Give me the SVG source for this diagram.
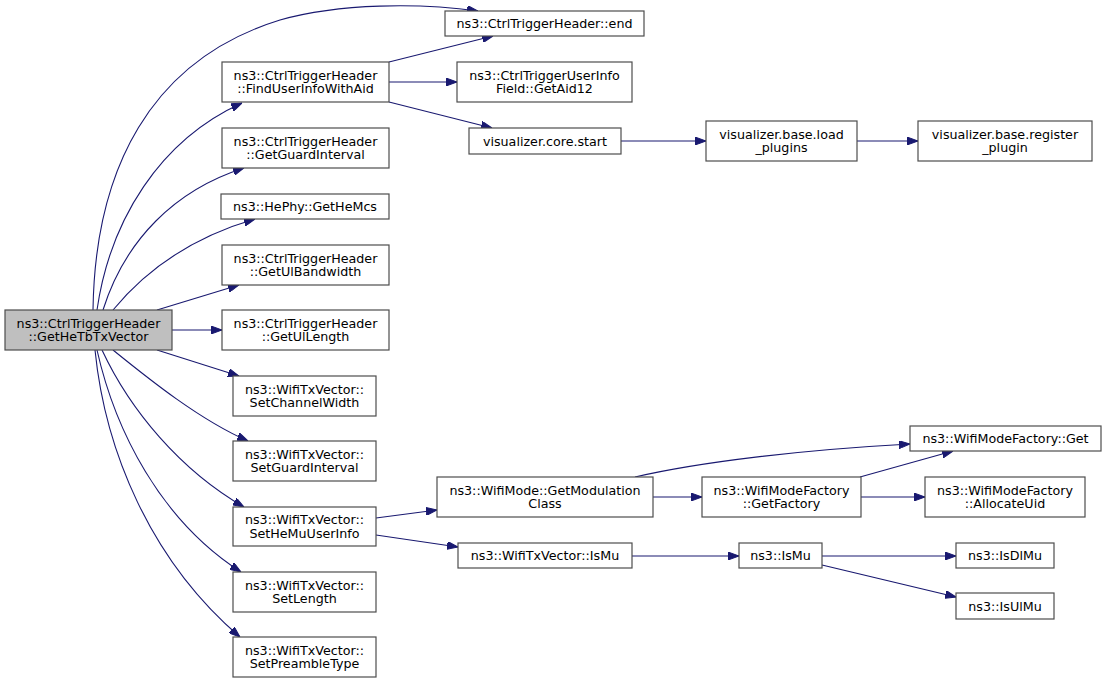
<svg xmlns="http://www.w3.org/2000/svg" width="1107" height="684" viewBox="0 0 1107 684">
<style>
.n rect{fill:#ffffff;stroke:#4d4d4d;stroke-width:1.2}
.n.main rect{fill:#bfbfbf}
.n text{font-family:"DejaVu Sans","Liberation Sans",sans-serif;font-size:12.7px;fill:#000;text-anchor:middle}
.e path{fill:none;stroke:#191970;stroke-width:1.1;marker-end:url(#ah)}
</style>
<defs>
<marker id="ah" viewBox="0 0 11 8" refX="11" refY="4" markerUnits="userSpaceOnUse" markerWidth="11" markerHeight="8" orient="auto">
<polygon points="0,0 11,4 0,8" fill="#191970" stroke="#191970"/>
</marker>
</defs>
<rect width="1107" height="684" fill="#ffffff"/>
<g id="connectors" class="e">
<path d="M93,310 C95,170 150,60 280,20 C340,3 420,3 478,11"/>
<path d="M97,310 C110,220 160,140 242,103"/>
<path d="M103,310 C125,240 175,190 244,168"/>
<path d="M113,310 C150,265 200,235 255,219"/>
<path d="M157,310 L239,285"/>
<path d="M172,330 L222,330"/>
<path d="M157,350 L239,376"/>
<path d="M113,350 C150,380 200,420 248,441"/>
<path d="M102,350 C130,410 180,470 244,507"/>
<path d="M97,350 C115,430 160,520 241,572"/>
<path d="M95,350 C105,450 150,560 240,637"/>
<path d="M389,62 L493,36"/>
<path d="M389,82 L457,82"/>
<path d="M389,102 L492,128"/>
<path d="M621,141 L706,141"/>
<path d="M857,141 L918,141"/>
<path d="M376,518 L437,510"/>
<path d="M376,535 L458,547"/>
<path d="M635,477 C700,462 800,450 910,444"/>
<path d="M653,497 L702,497"/>
<path d="M860,477 L953,451"/>
<path d="M861,497 L925,497"/>
<path d="M632,556 L739,556"/>
<path d="M822,556 L956,556"/>
<path d="M822,565 L956,597"/>
</g>
<g id="node-main" class="n main"><rect x="5" y="310" width="167" height="40"/><text x="88.5" y="327.5">ns3::CtrlTriggerHeader</text><text x="88.5" y="341">::GetHeTbTxVector</text></g>
<g id="node-end" class="n"><rect x="445" y="11" width="199" height="25"/><text x="544.5" y="28">ns3::CtrlTriggerHeader::end</text></g>
<g id="node-find" class="n"><rect x="222" y="62" width="167" height="40"/><text x="305.5" y="79.5">ns3::CtrlTriggerHeader</text><text x="305.5" y="93">::FindUserInfoWithAid</text></g>
<g id="node-aid12" class="n"><rect x="457" y="62" width="175" height="40"/><text x="544.5" y="79.5">ns3::CtrlTriggerUserInfo</text><text x="544.5" y="93">Field::GetAid12</text></g>
<g id="node-corestart" class="n"><rect x="469" y="128" width="152" height="26"/><text x="545" y="145.5">visualizer.core.start</text></g>
<g id="node-load" class="n"><rect x="706" y="121" width="151" height="40"/><text x="781.5" y="138.5">visualizer.base.load</text><text x="781.5" y="152">_plugins</text></g>
<g id="node-register" class="n"><rect x="918" y="121" width="174" height="40"/><text x="1005" y="138.5">visualizer.base.register</text><text x="1005" y="152">_plugin</text></g>
<g id="node-guard" class="n"><rect x="222" y="128" width="167" height="40"/><text x="305.5" y="145.5">ns3::CtrlTriggerHeader</text><text x="305.5" y="159">::GetGuardInterval</text></g>
<g id="node-hemcs" class="n"><rect x="221" y="194" width="168" height="25"/><text x="305" y="211">ns3::HePhy::GetHeMcs</text></g>
<g id="node-ulbw" class="n"><rect x="222" y="245" width="167" height="40"/><text x="305.5" y="262.5">ns3::CtrlTriggerHeader</text><text x="305.5" y="276">::GetUlBandwidth</text></g>
<g id="node-ullen" class="n"><rect x="222" y="310" width="167" height="40"/><text x="305.5" y="327.5">ns3::CtrlTriggerHeader</text><text x="305.5" y="341">::GetUlLength</text></g>
<g id="node-chw" class="n"><rect x="233" y="376" width="143" height="40"/><text x="304.5" y="393.5">ns3::WifiTxVector::</text><text x="304.5" y="407">SetChannelWidth</text></g>
<g id="node-sgi" class="n"><rect x="233" y="441" width="143" height="40"/><text x="304.5" y="458.5">ns3::WifiTxVector::</text><text x="304.5" y="472">SetGuardInterval</text></g>
<g id="node-hemu" class="n"><rect x="233" y="507" width="143" height="39"/><text x="304.5" y="524">ns3::WifiTxVector::</text><text x="304.5" y="537.5">SetHeMuUserInfo</text></g>
<g id="node-len" class="n"><rect x="233" y="572" width="143" height="40"/><text x="304.5" y="589.5">ns3::WifiTxVector::</text><text x="304.5" y="603">SetLength</text></g>
<g id="node-pre" class="n"><rect x="233" y="637" width="143" height="40"/><text x="304.5" y="654.5">ns3::WifiTxVector::</text><text x="304.5" y="668">SetPreambleType</text></g>
<g id="node-modclass" class="n"><rect x="437" y="477" width="216" height="40"/><text x="545" y="494.5">ns3::WifiMode::GetModulation</text><text x="545" y="508">Class</text></g>
<g id="node-txismu" class="n"><rect x="458" y="543" width="174" height="25"/><text x="545" y="560">ns3::WifiTxVector::IsMu</text></g>
<g id="node-getfactory" class="n"><rect x="702" y="477" width="159" height="40"/><text x="781.5" y="494.5">ns3::WifiModeFactory</text><text x="781.5" y="508">::GetFactory</text></g>
<g id="node-ismu" class="n"><rect x="739" y="543" width="83" height="25"/><text x="780.5" y="560">ns3::IsMu</text></g>
<g id="node-mfget" class="n"><rect x="910" y="426" width="191" height="25"/><text x="1005.5" y="443">ns3::WifiModeFactory::Get</text></g>
<g id="node-alloc" class="n"><rect x="925" y="477" width="160" height="40"/><text x="1005" y="494.5">ns3::WifiModeFactory</text><text x="1005" y="508">::AllocateUid</text></g>
<g id="node-isdlmu" class="n"><rect x="956" y="543" width="98" height="25"/><text x="1005" y="560">ns3::IsDlMu</text></g>
<g id="node-isulmu" class="n"><rect x="956" y="593" width="98" height="26"/><text x="1005" y="610.5">ns3::IsUlMu</text></g>
</svg>
